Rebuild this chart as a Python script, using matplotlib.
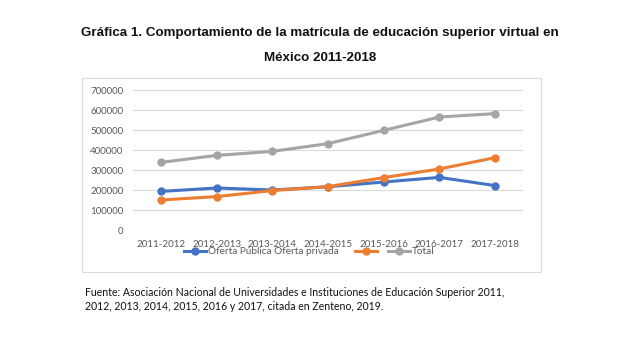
import matplotlib
matplotlib.use('Agg')
import matplotlib.pyplot as plt
from matplotlib.patches import Rectangle
from matplotlib.lines import Line2D

# Data
periods = ['2011-2012', '2012-2013', '2013-2014', '2014-2015',
           '2015-2016', '2016-2017', '2017-2018']
publica = [193000, 210000, 200000, 216000, 240000, 263000, 222000]
privada = [150000, 167000, 197000, 217000, 262000, 305000, 362000]
total = [338000, 373000, 393000, 432000, 498000, 565000, 582000]
yticks = [0, 100000, 200000, 300000, 400000, 500000, 600000, 700000]

blue, orange, gray = '#4472C4', '#ED7D31', '#A5A5A5'
txtgray = '#595959'

W, H = 640, 339
fig = plt.figure(figsize=(W / 100, H / 100), dpi=100)

# Title
fig.text(320 / W, 1 - 33 / H,
         'Gráfica 1. Comportamiento de la matrícula de educación superior virtual en',
         ha='center', va='center', fontsize=9.6, fontweight='bold',
         family='Liberation Sans', color='#111111')
fig.text(320 / W, 1 - 58 / H, 'México 2011-2018',
         ha='center', va='center', fontsize=9.6, fontweight='bold',
         family='Liberation Sans', color='#111111')

# Chart border
fig.patches.append(Rectangle((82 / W, 1 - 272 / H), (541 - 82) / W, (272 - 78) / H,
                             transform=fig.transFigure, fill=False,
                             edgecolor='#D9D9D9', lw=0.8))

# Plot area
ax = fig.add_axes([133 / W, 1 - 230 / H, (523 - 133) / W, 140 / H])
x = range(len(periods))
ax.plot(x, publica, color=blue, lw=2.2, marker='o', ms=5)
ax.plot(x, privada, color=orange, lw=2.2, marker='o', ms=5)
ax.plot(x, total, color=gray, lw=2.2, marker='o', ms=5)

ax.set_xlim(-0.5, len(periods) - 0.5)
ax.set_ylim(0, 700000)
ax.set_yticks(yticks)
ax.set_yticklabels([str(v) for v in yticks])
ax.set_xticks(list(x))
ax.set_xticklabels(periods)
ax.grid(axis='y', color='#D9D9D9', lw=0.8)
ax.set_axisbelow(True)
for s in ax.spines.values():
    s.set_visible(False)
ax.tick_params(length=0, labelsize=7.0, labelcolor=txtgray)
ax.tick_params(axis='x', pad=7)
ax.tick_params(axis='y', pad=7)
for lab in ax.get_xticklabels() + ax.get_yticklabels():
    lab.set_family('Lato')

# Legend (reproducing the odd labelling of the original)
handles = [Line2D([], [], color=c, lw=2.2, marker='o', ms=5) for c in (blue, orange, gray)]
labels = ['Oferta Pública Oferta privada   ', '', 'Total']
leg = fig.legend(handles, labels, loc='center left', ncol=3,
                 bbox_to_anchor=(184 / W, 1 - 252 / H), frameon=False,
                 handlelength=2.2, handletextpad=0.2, columnspacing=0.9,
                 prop={'family': 'Lato', 'size': 7.2}, borderpad=0,
                 borderaxespad=0)
for t in leg.get_texts():
    t.set_color(txtgray)

# Source note
fig.text(85 / W, 1 - 293 / H,
         'Fuente: Asociación Nacional de Universidades e Instituciones de Educación Superior 2011,',
         ha='left', va='center', fontsize=7.6, family='Lato', color='#111111')
fig.text(85 / W, 1 - 307 / H,
         '2012, 2013, 2014, 2015, 2016 y 2017, citada en Zenteno, 2019.',
         ha='left', va='center', fontsize=7.6, family='Lato', color='#111111')

fig.savefig('out.png', dpi=100, facecolor='white')
